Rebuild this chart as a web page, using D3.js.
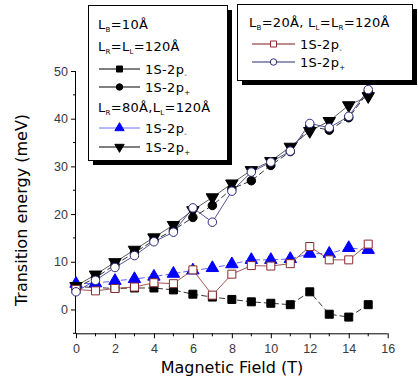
<!DOCTYPE html>
<html>
<head>
<meta charset="utf-8">
<script src="https://cdnjs.cloudflare.com/ajax/libs/d3/7.8.5/d3.min.js"></script>
<style>
  body { margin: 0; background: #fff; }
  svg text { font-family: "DejaVu Sans", sans-serif; }
</style>
</head>
<body>
<div id="chart"></div>
<script>
// magnetic field values (T)
const fields = [0, 1, 2, 3, 4, 5, 6, 7, 8, 9, 10, 11, 12, 13, 14, 15];

// LB=10A, LR=LL=120A
const lb10Minus = [4.8, 4.6, 4.4, 4.5, 4.5, 4.1, 3.2, 2.6, 2.1, 1.6, 1.3, 1.0, 3.7, -1.0, -1.6, 1.0];
const lb10Plus = [4.6, 6.6, 9.4, 11.9, 14.5, 16.6, 19.3, 21.8, 25.3, 27.0, 30.2, 33.1, 38.4, 37.6, 40.2, 45.6];
// LR=80A, LL=120A
const lr80Minus = [5.4, 5.5, 6.0, 6.4, 6.9, 7.5, 8.2, 8.7, 9.5, 10.4, 10.4, 10.6, 11.7, 11.7, 12.9, 12.5];
const lr80Plus = [4.9, 7.3, 9.9, 12.5, 15.1, 17.7, 20.8, 23.5, 26.4, 29.2, 31.1, 34.1, 37.4, 39.5, 42.8, 44.7];
// LB=20A, LL=LR=120A
const lb20Minus = [4.2, 3.9, 4.4, 4.7, 5.6, 5.4, 8.3, 3.0, 7.4, 9.2, 9.1, 9.6, 13.2, 10.4, 10.4, 13.7];
const lb20Plus = [3.7, 6.1, 8.8, 11.3, 14.2, 16.2, 21.3, 18.3, 24.8, 28.8, 30.9, 33.2, 39.0, 38.1, 40.5, 46.1];

const xTicks = [0, 2, 4, 6, 8, 10, 12, 14, 16];
const yTicks = [0, 10, 20, 30, 40, 50];

const series = [
    { values: lb10Minus, symbol: 'square', fill: '#000', stroke: '#000', line: '#000', legendLine: '#000', dash: '6,3' },
    { values: lb10Plus, symbol: 'circle', fill: '#000', stroke: '#000', line: '#000', legendLine: '#000', dash: '6,3' },
    { values: lr80Minus, symbol: 'triUp', fill: '#0000ff', stroke: '#0000ff', line: '#3a3aff', legendLine: '#7070ff', dash: '6,3' },
    { values: lr80Plus, symbol: 'triDown', fill: '#000', stroke: '#000', line: '#333', legendLine: '#000', dash: null },
    { values: lb20Minus, symbol: 'square', fill: '#fff', stroke: '#8b2a2a', line: '#8b2a2a', legendLine: '#7a1a1a', dash: null },
    { values: lb20Plus, symbol: 'circle', fill: '#fff', stroke: '#2a2a80', line: '#2a2a80', legendLine: '#2a2a70', dash: null }
];

const width = 418, height = 392;
const svg = d3.select('#chart').append('svg')
    .attr('width', width)
    .attr('height', height);

const x = d3.scaleLinear().domain([0, 16]).range([76, 387.7]);
const y = d3.scaleLinear().domain([-5, 50]).range([333.3, 71]);

function symbolPath(kind, size) {
    if (kind === 'square') return d3.symbol(d3.symbolSquare, size * size)();
    if (kind === 'circle') return d3.symbol(d3.symbolCircle, Math.PI * size * size / 4)();
    return d3.symbol(d3.symbolTriangle, size * size * 0.55)();
}

function drawMarker(g, kind, cx, cy, s, scale) {
    const k = scale || 1;
    const base = kind === 'square' ? 8 : kind === 'circle' ? 8.5 : 11;
    g.append('path')
        .attr('d', symbolPath(kind, base * k))
        .attr('transform', 'translate(' + cx + ',' + cy + ')' + (kind === 'triDown' ? ' rotate(180)' : ''))
        .attr('fill', s.fill)
        .attr('stroke', s.stroke)
        .attr('stroke-width', 1);
}

// axes
const xAxis = d3.axisBottom(x).tickValues(xTicks).tickSize(5).tickFormat(d3.format('d'));
const yAxis = d3.axisLeft(y).tickValues(yTicks).tickSize(5).tickFormat(d3.format('d'));

const gx = svg.append('g').attr('transform', 'translate(0,' + y(-5) + ')').call(xAxis);
const gy = svg.append('g').attr('transform', 'translate(' + x(0) + ',0)').call(yAxis);

// minor ticks
svg.append('g').selectAll('line')
    .data(d3.range(1, 16, 2))
    .enter().append('line')
    .attr('x1', d => x(d)).attr('x2', d => x(d))
    .attr('y1', y(-5)).attr('y2', y(-5) + 3)
    .attr('stroke', '#000');
svg.append('g').selectAll('line')
    .data([-5, 5, 15, 25, 35, 45])
    .enter().append('line')
    .attr('x1', x(0)).attr('x2', x(0) - 3)
    .attr('y1', d => y(d)).attr('y2', d => y(d))
    .attr('stroke', '#000');

[gx, gy].forEach(g => {
    g.selectAll('.tick line').attr('stroke', '#000');
    g.selectAll('.tick text')
        .style('font-family', '"Liberation Sans", Arial, sans-serif')
        .style('font-size', '12.5px')
        .attr('fill', '#3a3a3a');
});
gx.select('.domain').attr('stroke', '#000').attr('d', 'M' + x(0) + ',0.5H' + x(16));
gy.select('.domain').attr('stroke', '#000').attr('d', 'M-0.5,' + y(-5) + 'V' + y(50));
gx.selectAll('.tick text').attr('dy', '0.9em');

// axis titles
svg.append('text')
    .attr('x', 232).attr('y', 373)
    .attr('text-anchor', 'middle')
    .style('font-size', '16px')
    .text('Magnetic Field (T)');
svg.append('text')
    .attr('transform', 'translate(27,210) rotate(-90)')
    .attr('text-anchor', 'middle')
    .style('font-size', '16px')
    .text('Transition energy (meV)');

// data lines and markers
const plot = svg.append('g');
series.forEach(s => {
    const line = d3.line().x((d, i) => x(fields[i])).y(d => y(d));
    plot.append('path')
        .datum(s.values)
        .attr('d', line)
        .attr('fill', 'none')
        .attr('stroke', s.line)
        .attr('stroke-width', 0.8)
        .attr('stroke-dasharray', s.dash);
});
series.forEach(s => {
    s.values.forEach((v, i) => drawMarker(plot, s.symbol, x(fields[i]), y(v), s));
});

// legend helpers
function legendText(g, tx, ty, parts) {
    const t = g.append('text').attr('x', tx).attr('y', ty)
        .style('font-size', '13px')
        .style('letter-spacing', '0.3px');
    let shifted = false;
    parts.forEach(p => {
        if (p.sub) {
            t.append('tspan').attr('dy', shifted ? 0 : 3).style('font-size', '7px').text(p.sub);
            shifted = true;
        } else {
            t.append('tspan').attr('dy', shifted ? -3 : 0).text(p.t);
            shifted = false;
        }
    });
}

function legendRow(g, x1, x2, cy, s, label) {
    g.append('line')
        .attr('x1', x1).attr('x2', x2)
        .attr('y1', cy).attr('y2', cy)
        .attr('stroke', s.legendLine)
        .attr('stroke-width', 1);
    drawMarker(g, s.symbol, (x1 + x2) / 2, cy, s, 0.75);
    legendText(g, x2 + 5, cy + 5, [{ t: '1S-2p' }, { sub: label }]);
}

// left legend
const lg = svg.append('g');
lg.append('rect').attr('x', 93).attr('y', 10).attr('width', 139).attr('height', 155).attr('fill', '#000');
lg.append('rect').attr('x', 88.5).attr('y', 5.5).attr('width', 139).attr('height', 155)
    .attr('fill', '#fff').attr('stroke', '#000').attr('stroke-width', 1);
legendText(lg, 98, 29, [{ t: 'L' }, { sub: 'B' }, { t: '=10Å' }]);
legendText(lg, 98, 51, [{ t: 'L' }, { sub: 'R' }, { t: '=L' }, { sub: 'L' }, { t: '=120Å' }]);
legendRow(lg, 99, 140, 69, series[0], '-');
legendRow(lg, 99, 140, 87, series[1], '+');
legendText(lg, 98, 112, [{ t: 'L' }, { sub: 'R' }, { t: '=80Å,L' }, { sub: 'L' }, { t: '=120Å' }]);
legendRow(lg, 99, 140, 128, series[2], '-');
legendRow(lg, 99, 140, 147, series[3], '+');

// right legend
const rg = svg.append('g');
rg.append('rect').attr('x', 242).attr('y', 9).attr('width', 175).attr('height', 76).attr('fill', '#000');
rg.append('rect').attr('x', 237.5).attr('y', 4.5).attr('width', 175).attr('height', 76)
    .attr('fill', '#fff').attr('stroke', '#000').attr('stroke-width', 1);
legendText(rg, 249, 27, [{ t: 'L' }, { sub: 'B' }, { t: '=20Å, L' }, { sub: 'L' }, { t: '=L' }, { sub: 'R' }, { t: '=120Å' }]);
legendRow(rg, 252, 295, 44, series[4], '-');
legendRow(rg, 252, 295, 62, series[5], '+');
</script>
</body>
</html>
